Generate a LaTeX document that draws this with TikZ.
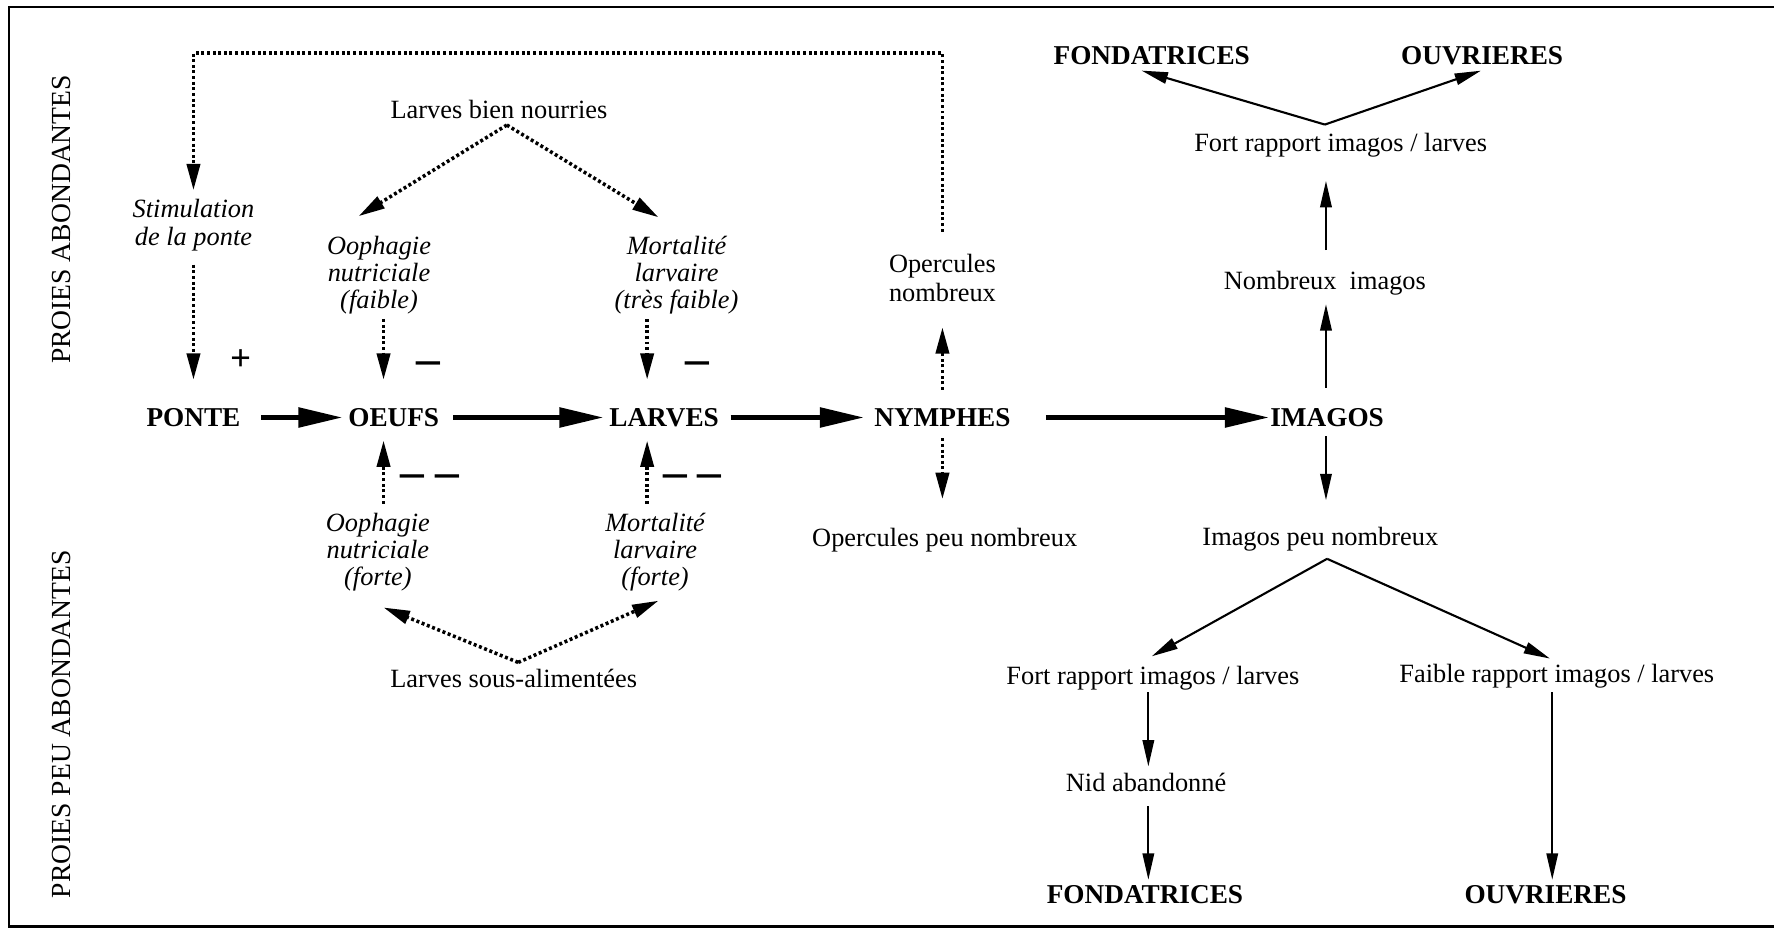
\documentclass[tikz,border=0pt]{standalone}
\usepackage{fontspec}
\setmainfont{Liberation Serif}
\usetikzlibrary{arrows.meta,calc}
\begin{document}
\begin{tikzpicture}[x=0.022628cm,y=-0.022628cm,
  txt/.style={font=\fontsize{15}{16}\selectfont, align=center, inner sep=0pt},
  ital/.style={font=\fontsize{15}{15.5}\selectfont\itshape, align=center, inner sep=0pt},
  caps/.style={font=\fontsize{15.5}{16}\selectfont\bfseries, inner sep=0pt},
  side/.style={font=\fontsize{15.7}{16}\selectfont, inner sep=0pt, rotate=90},
  sign/.style={font=\fontsize{27}{27}\selectfont\bfseries, inner sep=0pt},
  plussign/.style={font=\fontsize{21}{21}\selectfont\bfseries, inner sep=0pt},
  bigarr/.style={line width=2.6pt, -{Triangle[length=25pt,width=11pt]}},
  dotarr/.style={line width=2pt, dash pattern=on 1.7pt off 1.5pt, -{Triangle[length=15pt,width=7.5pt]}},
  thinarr/.style={line width=1.2pt, -{Triangle[length=15pt,width=6.5pt]}},
]
\useasboundingbox (0,0) rectangle (1568,824);
\fill[white] (0,0) rectangle (1568,824);
\draw[line width=1.3pt] (1568,6) -- (8,6) -- (8,819) -- (1568,819);

% side labels
\node[side] (sideA) at (54,194) {PROIES ABONDANTES};
\node[side] (sideB) at (54,640) {PROIES PEU ABONDANTES};

% main row
\node[caps] (ponte) at (171,369) {PONTE};
\node[caps] (oeufs) at (348,369) {OEUFS};
\node[caps] (larves) at (587,369) {LARVES};
\node[caps] (nymphes) at (833,369) {NYMPHES};
\node[caps] (imagos) at (1173,369) {IMAGOS};

% upper left
\node[ital] (stim) at (171,199) {Stimulation\\de la ponte};
\node[txt] (lbn) at (441,97) {Larves bien nourries};
\node[ital] (oph1) at (335,243) {Oophagie\\nutriciale\\(faible)};
\node[ital] (mort1) at (598,243) {Mortalité\\larvaire\\(très faible)};
\node[txt, font=\fontsize{15}{16.5}\selectfont] (opn1) at (833,246) {Opercules\\nombreux};
\node[plussign] (plus) at (213,318) {+};
\node[sign] (min1) at (379,325) {–};
\node[sign] (min2) at (616,325) {–};

% lower left
\node[sign] (mm1) at (380,425) {–\hspace{6pt}–};
\node[sign] (mm2) at (612,425) {–\hspace{6pt}–};
\node[ital] (oph2) at (334,488) {Oophagie\\nutriciale\\(forte)};
\node[ital] (mort2) at (579,488) {Mortalité\\larvaire\\(forte)};
\node[txt] (lsa) at (454,600) {Larves sous-alimentées};
\node[txt] (opn2) at (835,477) {Opercules peu nombreux};

% right side
\node[caps] (fond1) at (1018,49) {FONDATRICES};
\node[caps] (ouv1) at (1310,49) {OUVRIERES};
\node[txt] (fr1) at (1185,128) {Fort rapport imagos / larves};
\node[txt] (ni) at (1171,250) {Nombreux\ \ imagos};
\node[txt] (ipn) at (1167,477) {Imagos peu nombreux};
\node[txt] (fr2) at (1019,599) {Fort rapport imagos / larves};
\node[txt] (fa2) at (1376,598) {Faible rapport imagos / larves};
\node[txt] (nid) at (1013,692) {Nid abandonné};
\node[caps] (fond2) at (1012,791) {FONDATRICES};
\node[caps] (ouv2) at (1366,791) {OUVRIERES};

% feedback loop
\coordinate (fbtop) at (0,47);
\draw[dotarr] ($(opn1.north)+(0,-20)$) -- (opn1.north |- fbtop) -- (stim.north |- fbtop) -- ($(stim.north)+(0,-8)$);
\draw[dotarr] ($(stim.south)+(0,12)$) -- ($(ponte.north)+(0,-25)$);

% main arrows
\draw[bigarr] ($(ponte.east)+(18,0)$) -- ($(oeufs.west)+(-5,0)$);
\draw[bigarr] ($(oeufs.east)+(12,0)$) -- ($(larves.west)+(-5,0)$);
\draw[bigarr] ($(larves.east)+(10,0)$) -- ($(nymphes.west)+(-9,0)$);
\draw[bigarr] ($(nymphes.east)+(31,0)$) -- ($(imagos.west)+(-1,0)$);

% upper dotted
\draw[dotarr] ($(lbn.south)+(7,5)$) -- ($(oph1.north)+(-18,-17)$);
\draw[dotarr] ($(lbn.south)+(7,5)$) -- ($(mort1.north)+(-16,-16)$);
\draw[dotarr] ($(oph1.south)+(4,4)$) -- ($(oeufs.north)+(-9,-25)$);
\draw[dotarr] ($(mort1.south)+(-26,4)$) -- ($(larves.north)+(-15,-25)$);
\draw[dotarr] ($(nymphes.north)+(0,-16)$) -- ($(opn1.south)+(0,22)$);
\draw[dotarr] ($(nymphes.south)+(0,10)$) -- ($(opn2.north)+(-2,-25)$);

% lower dotted
\draw[dotarr] ($(oph2.north)+(5,-8)$) -- ($(oeufs.south)+(-9,12)$);
\draw[dotarr] ($(mort2.north)+(-7,-8)$) -- ($(larves.south)+(-15,12)$);
\draw[dotarr] ($(lsa.north)+(4,-6)$) -- ($(oph2.south)+(5,14)$);
\draw[dotarr] ($(lsa.north)+(4,-6)$) -- ($(mort2.south)+(3,8)$);

% right side arrows
\draw[thinarr] ($(imagos.north)+(-1,-18)$) -- ($(ni.south)+(1,8)$);
\draw[thinarr] ($(ni.north)+(1,-18)$) -- ($(fr1.south)+(-13,21)$);
\draw[thinarr] ($(fr1.north)+(-14,-7)$) -- ($(fond1.south)+(-9,5)$);
\draw[thinarr] ($(fr1.north)+(-14,-7)$) -- ($(ouv1.south)+(-1,5)$);
\draw[thinarr] ($(imagos.south)+(-1,8)$) -- ($(ipn.north)+(5,-24)$);
\draw[thinarr] ($(ipn.south)+(6,6)$) -- ($(fr2.north)+(-1,-8)$);
\draw[thinarr] ($(ipn.south)+(6,6)$) -- ($(fa2.north)+(-6,-5)$);
\draw[thinarr] ($(fr2.south)+(-4,2)$) -- ($(nid.north)+(2,-6)$);
\draw[thinarr] ($(nid.south)+(2,12)$) -- ($(fond2.north)+(3,-5)$);
\draw[thinarr] ($(fa2.south)+(-4,3)$) -- ($(ouv2.north)+(6,-5)$);
\end{tikzpicture}
\end{document}
